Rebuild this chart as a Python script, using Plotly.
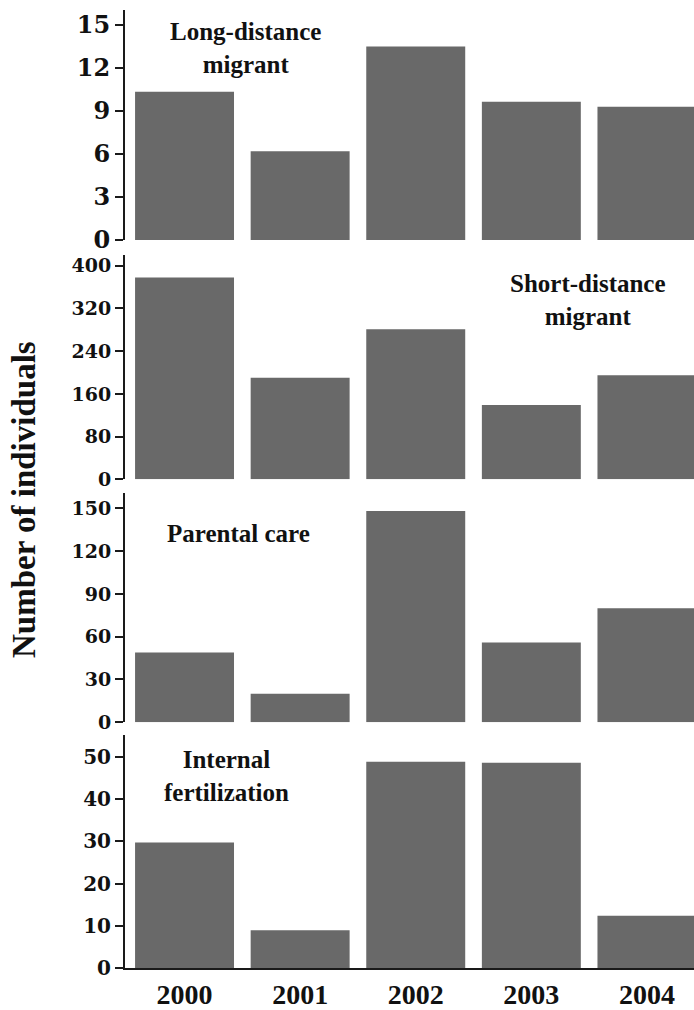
import plotly.graph_objects as go

# ---------------- data ----------------
years = ["2000", "2001", "2002", "2003", "2004"]
long_distance = [10.35, 6.2, 13.5, 9.65, 9.3]
short_distance = [378, 190, 281, 139, 195]
parental_care = [49, 20, 148, 56, 80]
internal_fert = [29.7, 9.0, 48.8, 48.6, 12.4]

panel_titles = ["Long-distance<br>migrant", "Short-distance<br>migrant",
                "Parental care", "Internal<br>fertilization"]
ytick_vals = [[0, 3, 6, 9, 12, 15],
              [0, 80, 160, 240, 320, 400],
              [0, 30, 60, 90, 120, 150],
              [0, 10, 20, 30, 40, 50]]
y_title = "Number of individuals"

# ---------------- layout helpers ----------------
W, H = 694, 1010
ML, MR = 125, 0
PW = W - ML - MR

def px2x(px):
    return (px - ML) / PW

def py2y(py):
    return 1 - py / H

BAR_COLOR = "#696969"
AX_COLOR = "#1a1a1a"
SERIF = "Liberation Serif"
TICKFONT = "DejaVu Serif"

series = [long_distance, short_distance, parental_care, internal_fert]
# pixel top / bottom of each panel
panel_px = [(10, 240), (255, 479.3), (493, 722.3), (735, 968.3)]
y_ranges = [[0, 16.05], [0, 420], [0, 160.7], [0, 55.13]]
ytick_sizes = [24, 19, 19, 20]

fig = go.Figure()
for i, vals in enumerate(series):
    k = "" if i == 0 else str(i + 1)
    fig.add_trace(go.Bar(x=years, y=vals, marker_color=BAR_COLOR,
                         marker_line_width=0, xaxis="x" + k, yaxis="y" + k,
                         showlegend=False))
    top, bot = panel_px[i]
    last = (i == 3)
    fig.layout["xaxis" + k] = dict(
        domain=[0, 1], anchor="y" + k, type="category",
        range=[-0.515, 4.407],
        showline=last, linecolor=AX_COLOR, linewidth=2,
        showticklabels=last, ticks="", ticklen=0, showgrid=False, zeroline=False,
        tickfont=dict(family=SERIF, size=28, color="#111", weight=700),
        automargin=False, fixedrange=True,
    )
    fig.layout["yaxis" + k] = dict(
        domain=[py2y(bot), py2y(top)], anchor="x" + k,
        range=y_ranges[i], tickvals=ytick_vals[i],
        showline=True, linecolor=AX_COLOR, linewidth=2,
        ticks="outside", ticklen=8, tickwidth=2, tickcolor=AX_COLOR,
        showgrid=False, zeroline=False,
        tickfont=dict(family=TICKFONT, size=ytick_sizes[i], color="#111", weight=700),
        automargin=False,
    )

# panel labels (pixel centres)
title_pos = [(245.5, 48), (588, 300), (238, 533), (226.7, 776)]
annotations = []
for (px, py), t in zip(title_pos, panel_titles):
    annotations.append(dict(
        text=t, x=px2x(px), y=py2y(py), xref="paper", yref="paper",
        xanchor="center", yanchor="middle", showarrow=False,
        font=dict(family=SERIF, size=25, color="#111", weight=700),
    ))
annotations.append(dict(
    text=y_title, x=px2x(24), y=py2y(500), xref="paper", yref="paper",
    xanchor="center", yanchor="middle", showarrow=False, textangle=-90,
    font=dict(family=SERIF, size=33, color="#111", weight=700),
))

fig.update_layout(
    width=W, height=H,
    margin=dict(l=ML, r=MR, t=0, b=0),
    paper_bgcolor="white", plot_bgcolor="white",
    bargap=0.144,
    annotations=annotations,
    template="none",
)

fig.write_html("out.html",
               config={"displayModeBar": False},
               post_script="document.body.style.margin='0';document.body.style.padding='0';")
